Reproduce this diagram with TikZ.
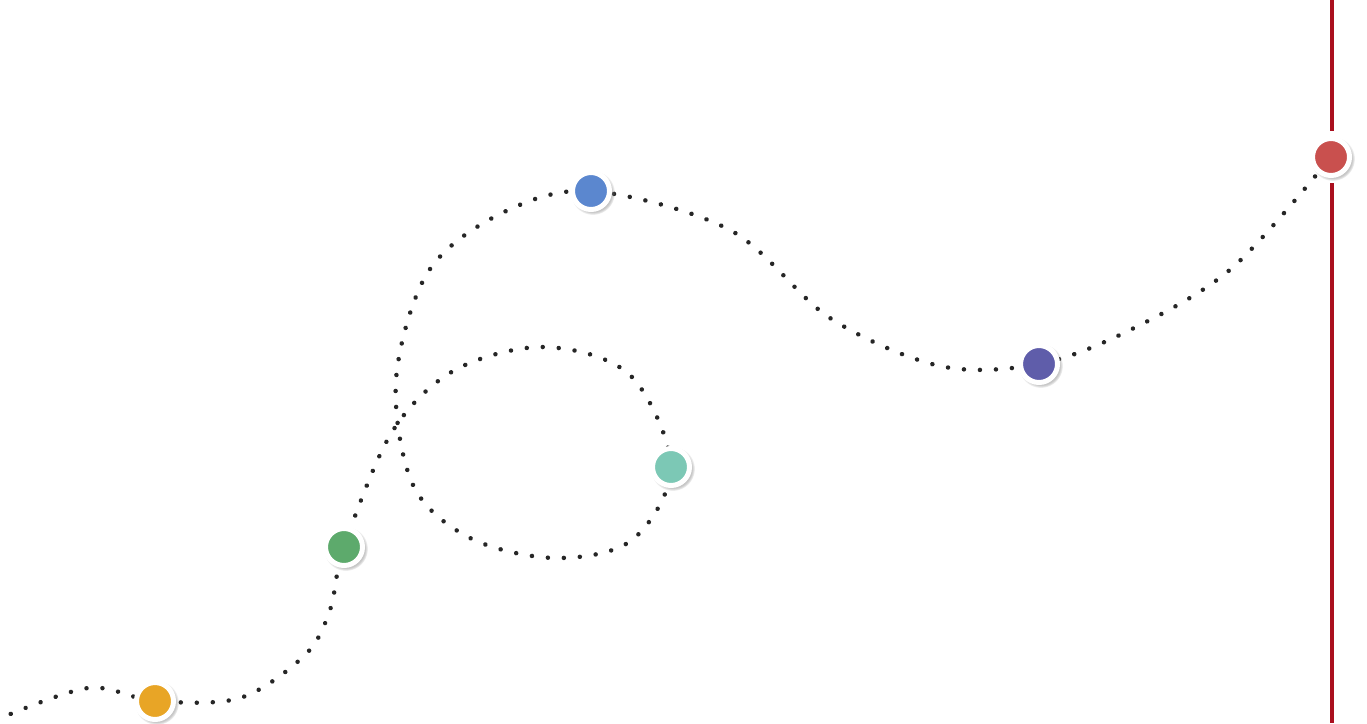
\documentclass[tikz,border=0pt]{standalone}
\usetikzlibrary{shadows}
\pgfdeclarelayer{background}
\pgfdeclarelayer{paper}
\pgfsetlayers{paper,background,main}
\definecolor{cyel}{HTML}{E8A526}
\definecolor{cgrn}{HTML}{5DAA6C}
\definecolor{ctea}{HTML}{7CC8B5}
\definecolor{cblu}{HTML}{5B87CF}
\definecolor{cpur}{HTML}{5F5DAA}
\definecolor{cred}{HTML}{C9504E}
\definecolor{cline}{HTML}{AA0F1E}
\definecolor{cdot}{HTML}{262626}
\tikzset{
  stop/.style={circle, inner sep=0pt, minimum size=37pt, fill=#1, draw=white, line width=5pt,
    circular drop shadow={shadow scale=1.2, shadow xshift=1.5pt, shadow yshift=-1.5pt, opacity=0.45}},
  dotline/.style={cdot, line width=4.5pt, line cap=round, dash pattern=on 0.01pt off 16pt},
  redline/.style={cline, line width=4pt},
}
\begin{document}
\begin{tikzpicture}[x=1pt,y=-1pt]
\begin{pgfonlayer}{paper}
\fill[white] (0,0) rectangle (1367,723);
\end{pgfonlayer}
\useasboundingbox (0,0) rectangle (1367,723);
% stops
\node[stop=cyel] (Y) at (155,701) {};
\node[stop=cgrn] (G) at (344,547) {};
\node[stop=ctea] (T) at (671,467) {};
\node[stop=cblu] (B) at (591,191) {};
\node[stop=cpur] (P) at (1039,364) {};
\node[stop=cred] (R) at (1331,157) {};
% waypoints
\coordinate (s) at (-4,720);
\coordinate (w1) at (88,688);
\coordinate (w2) at (240,698);
\coordinate (w3) at (305,655);
\coordinate (w3b) at (330,610);
\coordinate (w4) at (392,432);
\coordinate (w5) at (455,370);
\coordinate (w6) at (545,347);
\coordinate (w7) at (630,375);
\coordinate (w8) at (632,540);
\coordinate (w9) at (555,558);
\coordinate (w10) at (470,538);
\coordinate (w11) at (413,485);
\coordinate (w12) at (396,380);
\coordinate (w13) at (428,272);
\coordinate (w14) at (500,214);
\coordinate (w15) at (730,230);
\coordinate (w16) at (830,318);
\coordinate (w17) at (940,366);
\coordinate (w18) at (1130,330);
\coordinate (w19) at (1232,268);
\coordinate (lt) at (1332,0);
\coordinate (lb) at (1332,723);
\begin{pgfonlayer}{background}
\draw[dotline] plot[smooth, tension=0.55] coordinates {(s) (w1) (Y.center) (w2) (w3) (w3b) (G.center) (w4) (w5) (w6) (w7) (T.center) (w8) (w9) (w10) (w11) (w12) (w13) (w14) (B.center) (w15) (w16) (w17) (P.center) (w18) (w19) (R.center)};
\end{pgfonlayer}
\draw[redline, shorten >=5pt] (lt) -- (lt |- R.north);
\draw[redline, shorten <=5pt] (lb |- R.south) -- (lb);
\end{tikzpicture}
\end{document}
